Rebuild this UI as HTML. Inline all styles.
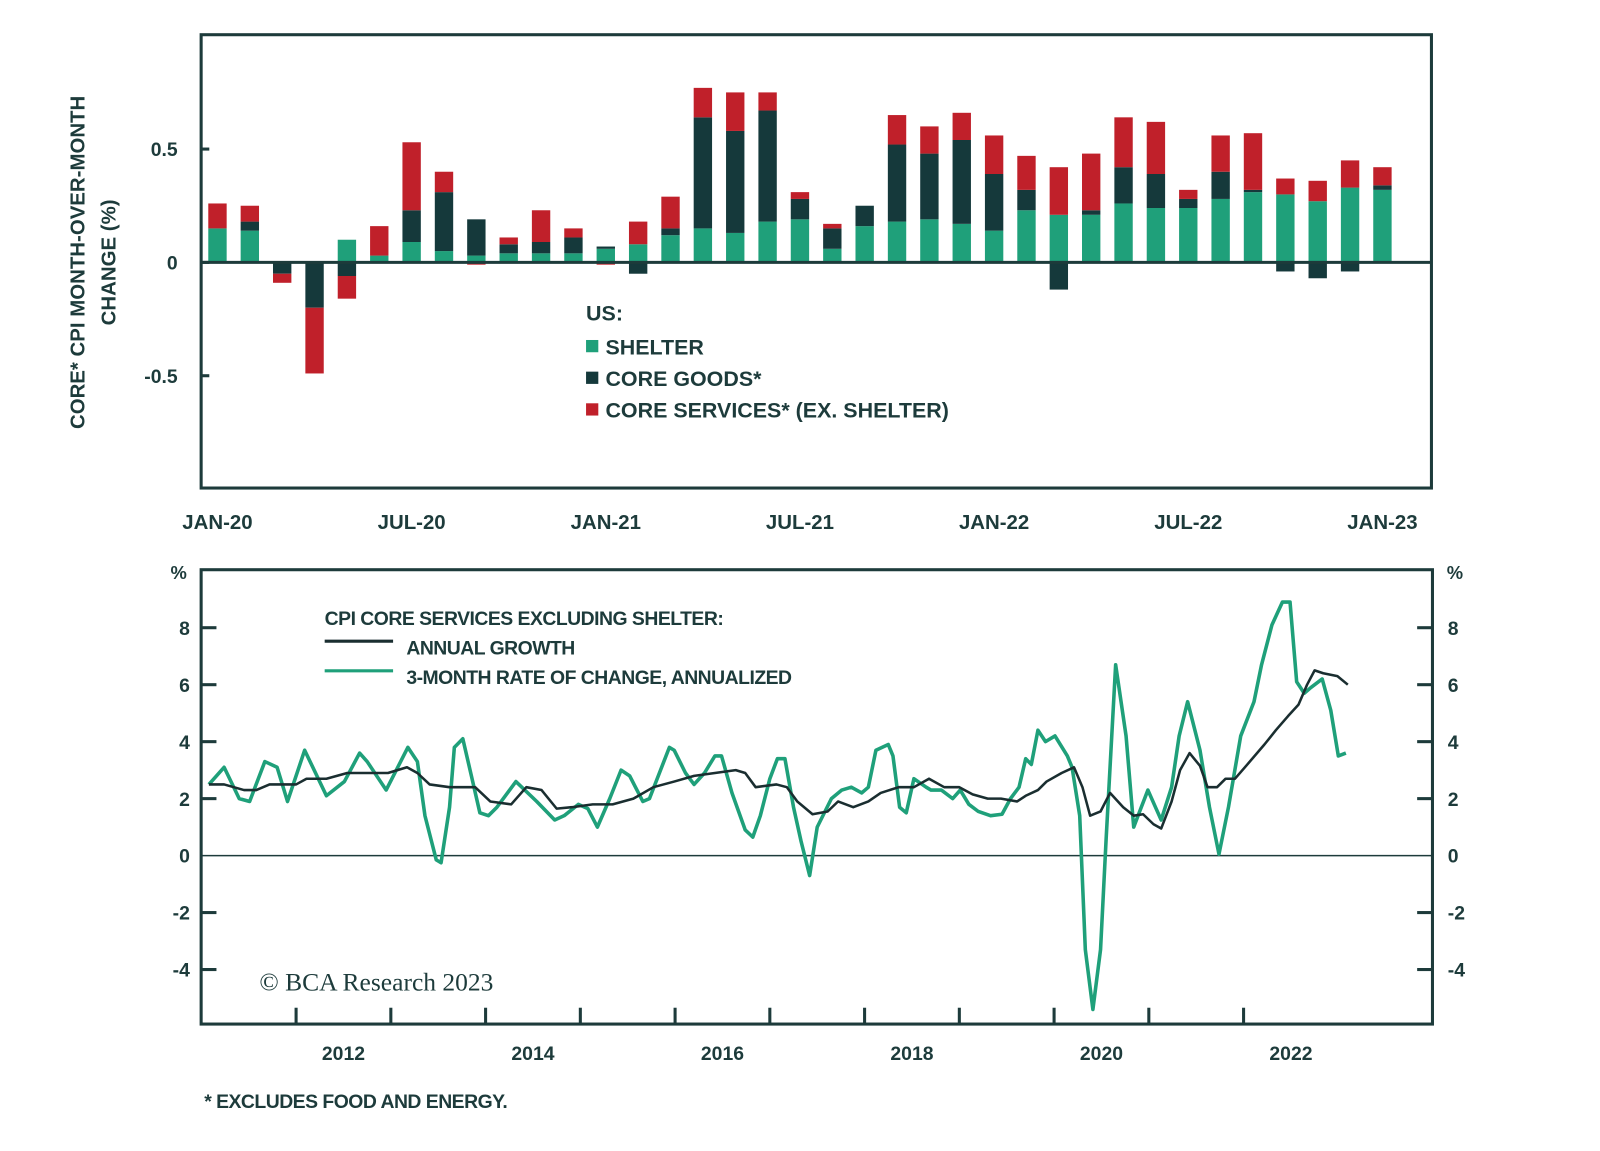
<!DOCTYPE html>
<html><head><meta charset="utf-8"><style>
html,body{margin:0;padding:0;background:#fff;}
svg text{font-family:"Liberation Sans",sans-serif;fill:#1d3b3b;font-weight:bold;}
</style></head><body>
<svg id="chart" width="1600" height="1146" viewBox="0 0 1600 1146" xmlns="http://www.w3.org/2000/svg">
<g transform="scale(1.021)"><g id="topchart"></g><g id="botchart"></g></g>
</svg>
<script>
// ---- Top chart data ----
const months = ["JAN-20","FEB-20","MAR-20","APR-20","MAY-20","JUN-20","JUL-20","AUG-20","SEP-20","OCT-20","NOV-20","DEC-20","JAN-21","FEB-21","MAR-21","APR-21","MAY-21","JUN-21","JUL-21","AUG-21","SEP-21","OCT-21","NOV-21","DEC-21","JAN-22","FEB-22","MAR-22","APR-22","MAY-22","JUN-22","JUL-22","AUG-22","SEP-22","OCT-22","NOV-22","DEC-22","JAN-23"];
const shelter = [0.15,0.14,0,0,0.10,0.03,0.09,0.05,0.03,0.04,0.04,0.04,0.06,0.08,0.12,0.15,0.13,0.18,0.19,0.06,0.16,0.18,0.19,0.17,0.14,0.23,0.21,0.21,0.26,0.24,0.24,0.28,0.31,0.30,0.27,0.33,0.32];
const goods = [0,0.04,-0.05,-0.20,-0.06,0,0.14,0.26,0.16,0.04,0.05,0.07,0.01,-0.05,0.03,0.49,0.45,0.49,0.09,0.09,0.09,0.34,0.29,0.37,0.25,0.09,-0.12,0.02,0.16,0.15,0.04,0.12,0.01,-0.04,-0.07,-0.04,0.02];
const services = [0.11,0.07,-0.04,-0.29,-0.10,0.13,0.30,0.09,-0.01,0.03,0.14,0.04,-0.01,0.10,0.14,0.13,0.17,0.08,0.03,0.02,0,0.13,0.12,0.12,0.17,0.15,0.21,0.25,0.22,0.23,0.04,0.16,0.25,0.07,0.09,0.12,0.08];
const topTicks = [0.5,0,-0.5];
const topTickLabels = ["0.5","0","-0.5"];
const topXLabels = ["JAN-20","JUL-20","JAN-21","JUL-21","JAN-22","JUL-22","JAN-23"];

// ---- Bottom chart data ----
const greenT = [2011.08,2011.24,2011.40,2011.51,2011.67,2011.80,2011.91,2012.09,2012.32,2012.51,2012.67,2012.75,2012.95,2013.18,2013.28,2013.36,2013.48,2013.53,2013.62,2013.67,2013.76,2013.85,2013.94,2014.03,2014.12,2014.32,2014.54,2014.73,2014.83,2014.98,2015.08,2015.18,2015.31,2015.43,2015.52,2015.66,2015.73,2015.94,2015.99,2016.11,2016.20,2016.31,2016.42,2016.49,2016.60,2016.74,2016.82,2016.90,2017.00,2017.08,2017.16,2017.25,2017.33,2017.42,2017.50,2017.65,2017.76,2017.86,2017.97,2018.04,2018.12,2018.25,2018.30,2018.37,2018.44,2018.52,2018.65,2018.70,2018.81,2018.93,2019.01,2019.10,2019.20,2019.33,2019.45,
2019.54,2019.63,2019.70,2019.76,2019.83,2019.91,2020.01,2020.14,2020.19,2020.27,2020.33,2020.41,2020.49,2020.55,2020.65,2020.76,2020.84,2020.92,2020.99,2021.07,2021.13,2021.24,2021.32,2021.41,2021.54,2021.64,2021.74,2021.84,2021.97,2022.11,2022.19,2022.30,2022.41,2022.49,2022.56,2022.64,2022.71,2022.83,2022.92,2023.00,2023.08];
const greenV = [2.5,3.1,2.0,1.9,3.3,3.1,1.9,3.7,2.1,2.6,3.6,3.3,2.3,3.8,3.3,1.4,-0.15,-0.25,1.7,3.8,4.1,2.8,1.5,1.4,1.7,2.6,1.9,1.25,1.4,1.8,1.65,1.0,2.0,3.0,2.8,1.9,2.0,3.8,3.7,2.9,2.5,2.9,3.5,3.5,2.2,0.9,0.65,1.4,2.7,3.4,3.4,1.7,0.5,-0.7,1.0,2.0,2.3,2.4,2.2,2.4,3.7,3.9,3.5,1.7,1.5,2.7,2.4,2.3,2.3,2.0,2.3,1.8,1.55,1.4,1.45,
2.0,2.4,3.4,3.2,4.4,4.0,4.2,3.5,3.1,1.4,-3.3,-5.4,-3.3,0.6,6.7,4.2,1.0,1.7,2.3,1.7,1.25,2.4,4.2,5.4,3.7,1.7,0.05,1.7,4.2,5.4,6.7,8.1,8.9,8.9,6.1,5.7,5.9,6.2,5.1,3.5,3.6];
const blackT = [2011.08,2011.24,2011.45,2011.58,2011.72,2011.88,2012.00,2012.11,2012.32,2012.54,2012.75,2012.97,2013.17,2013.28,2013.41,2013.62,2013.89,2014.05,2014.27,2014.43,2014.59,2014.75,2014.91,2015.13,2015.34,2015.56,2015.77,2015.99,2016.20,2016.42,2016.64,2016.74,2016.85,2017.07,2017.18,2017.29,2017.45,2017.61,2017.72,2017.88,2018.04,2018.17,2018.36,2018.52,2018.68,2018.84,2019.00,2019.14,2019.30,2019.44,2019.61,
2019.70,2019.83,2019.92,2020.08,2020.21,2020.30,2020.38,2020.49,2020.59,2020.73,2020.84,2020.94,2021.05,2021.13,2021.24,2021.33,2021.43,2021.54,2021.62,2021.72,2021.81,2021.91,2022.04,2022.22,2022.34,2022.47,2022.58,2022.67,2022.75,2022.84,2022.99,2023.10];
const blackV = [2.5,2.5,2.3,2.3,2.5,2.5,2.5,2.7,2.7,2.9,2.9,2.9,3.1,2.9,2.5,2.4,2.4,1.9,1.8,2.4,2.3,1.65,1.7,1.8,1.8,2.0,2.4,2.6,2.8,2.9,3.0,2.9,2.4,2.5,2.4,1.9,1.45,1.55,1.9,1.7,1.9,2.2,2.4,2.4,2.7,2.4,2.4,2.15,2.0,2.0,1.9,
2.1,2.3,2.6,2.9,3.1,2.4,1.4,1.55,2.2,1.7,1.4,1.45,1.1,0.95,1.9,3.0,3.6,3.15,2.4,2.4,2.7,2.7,3.2,3.9,4.4,4.9,5.3,6.0,6.5,6.4,6.3,6.0];
const botTicks = [8,6,4,2,0,-2,-4];
const botTickLabels = ["8","6","4","2","0","-2","-4"];
const yearTicks = [2012,2013,2014,2015,2016,2017,2018,2019,2020,2021,2022];
const yearLabels = ["2012","2014","2016","2018","2020","2022"];

const NS="http://www.w3.org/2000/svg";
function mk(parent,tag,attrs,text){const e=document.createElementNS(NS,tag);for(const k in attrs)e.setAttribute(k,attrs[k]);if(text!==undefined)e.textContent=text;parent.appendChild(e);return e;}

// ===== TOP =====
const topG=document.getElementById('topchart');
const TX0=197,TX1=1402,TY0=34,TY1=478;
const ty=v=>257-v*222;
const tx=i=>213+i*(1354-213)/36;
const BW=18;
const C_SH="#1fa07a",C_GD="#15393b",C_SV="#c0202a";
months.forEach((m,i)=>{
  const g=mk(topG,'g',{});
  
  
  let pos=0,neg=0;
  [[shelter[i],C_SH,'shelter'],[goods[i],C_GD,'goods'],[services[i],C_SV,'services']].forEach(([v,c,n])=>{
    if(v===0)return;
    let a,b;
    if(v>0){a=pos;b=pos+v;pos=b;}else{a=neg;b=neg+v;neg=b;}
    const y1=ty(Math.max(a,b)),y2=ty(Math.min(a,b));
    const r=mk(g,'rect',{x:tx(i)-BW/2,y:y1,width:BW,height:y2-y1,fill:c});
    
    
  });
});
const zl=mk(topG,'line',{x1:TX0,x2:TX1,y1:ty(0),y2:ty(0),stroke:"#1d3b3b","stroke-width":3});


const tf=mk(topG,'rect',{x:TX0,y:TY0,width:TX1-TX0,height:TY1-TY0,fill:'none',stroke:'#1d3b3b','stroke-width':3});


topTicks.forEach((v,i)=>{
  const t=mk(topG,'line',{x1:TX0,x2:TX0+8,y1:ty(v),y2:ty(v),stroke:'#1d3b3b','stroke-width':3});
  
  
  const l=mk(topG,'text',{x:174,y:ty(v)+7,'text-anchor':'end','font-size':19},topTickLabels[i]);
  
  
});
topXLabels.forEach(lab=>{
  const i=months.indexOf(lab);
  const l=mk(topG,'text',{x:tx(i),y:518,'text-anchor':'middle','font-size':20},lab);
  
  
});
const yt1=mk(topG,'text',{x:0,y:0,transform:'translate(83,257) rotate(-90)','text-anchor':'middle','font-size':20},"CORE* CPI MONTH-OVER-MONTH");


const yt2=mk(topG,'text',{x:0,y:0,transform:'translate(113,257) rotate(-90)','text-anchor':'middle','font-size':20},"CHANGE (%)");


const lt=mk(topG,'text',{x:574,y:314,'font-size':21},"US:");


[["SHELTER",C_SH,339],["CORE GOODS*",C_GD,370],["CORE SERVICES* (EX. SHELTER)",C_SV,401]].forEach(([t,c,y])=>{
  const g=mk(topG,'g',{});
  
  
  mk(g,'rect',{x:574,y:y-6,width:12,height:12,fill:c});
  mk(g,'text',{x:593,y:y+8,'font-size':21},t);
});

// ===== BOTTOM =====
const botG=document.getElementById('botchart');
const BX0=197,BX1=1403,BY0=558,BY1=1003;
const bx=t=>290+(t-2012)*92.8;
const by=v=>838-v*27.9;
const bf=mk(botG,'rect',{x:BX0,y:BY0,width:BX1-BX0,height:BY1-BY0,fill:'none',stroke:'#1d3b3b','stroke-width':3});


botTicks.forEach((v,i)=>{
  if(v!==0){
    const a=mk(botG,'line',{x1:BX0,x2:BX0+15,y1:by(v),y2:by(v),stroke:'#1d3b3b','stroke-width':3});
    
    
    const b=mk(botG,'line',{x1:BX1-15,x2:BX1,y1:by(v),y2:by(v),stroke:'#1d3b3b','stroke-width':3});
    
    
  }
  const l=mk(botG,'text',{x:186,y:by(v)+7,'text-anchor':'end','font-size':19},botTickLabels[i]);
  
  
  const r=mk(botG,'text',{x:1418,y:by(v)+7,'text-anchor':'start','font-size':19},botTickLabels[i]);
  
  
});
const z2=mk(botG,'line',{x1:BX0,x2:BX1,y1:by(0),y2:by(0),stroke:'#1d3b3b','stroke-width':1.5});


yearTicks.forEach(y=>{
  const t=mk(botG,'line',{x1:bx(y),x2:bx(y),y1:BY1-16,y2:BY1,stroke:'#1d3b3b','stroke-width':3});
  
  
});
yearLabels.forEach(y=>{
  const l=mk(botG,'text',{x:bx(+y+0.5),y:1038,'text-anchor':'middle','font-size':19},y);
  
  
});
const pc1=mk(botG,'text',{x:175,y:567,'text-anchor':'middle','font-size':18},"%");


const pc2=mk(botG,'text',{x:1425,y:567,'text-anchor':'middle','font-size':18},"%");


function pts(T,V){const n=Math.min(T.length,V.length);const out=[];for(let i=0;i<n;i++)out.push(bx(T[i]).toFixed(1)+','+by(V[i]).toFixed(1));return out.join(' ');}
const gl=mk(botG,'polyline',{points:pts(greenT,greenV),fill:'none',stroke:'#1fa07a','stroke-width':3.5,'stroke-linejoin':'round'});


const bl=mk(botG,'polyline',{points:pts(blackT,blackV),fill:'none',stroke:'#1a2e30','stroke-width':2.5,'stroke-linejoin':'round'});


const lg=mk(botG,'text',{x:318,y:612,'font-size':19,'letter-spacing':'-0.5'},"CPI CORE SERVICES EXCLUDING SHELTER:");


[["ANNUAL GROWTH","#1a2e30",628],["3-MONTH RATE OF CHANGE, ANNUALIZED","#1fa07a",657]].forEach(([t,c,y])=>{
  const g=mk(botG,'g',{});
  
  
  mk(g,'line',{x1:318,x2:385,y1:y,y2:y,stroke:c,'stroke-width':3});
  mk(g,'text',{x:398,y:y+13,'font-size':19,'letter-spacing':'-0.5'},t);
});
const cp=mk(botG,'text',{x:254,y:970,'font-size':25,style:'font-family:"Liberation Serif",serif;font-weight:normal'},"© BCA Research 2023");


const fn=mk(botG,'text',{x:200,y:1085,'font-size':19,'letter-spacing':'-0.5'},"* EXCLUDES FOOD AND ENERGY.");


</script>
</body></html>
